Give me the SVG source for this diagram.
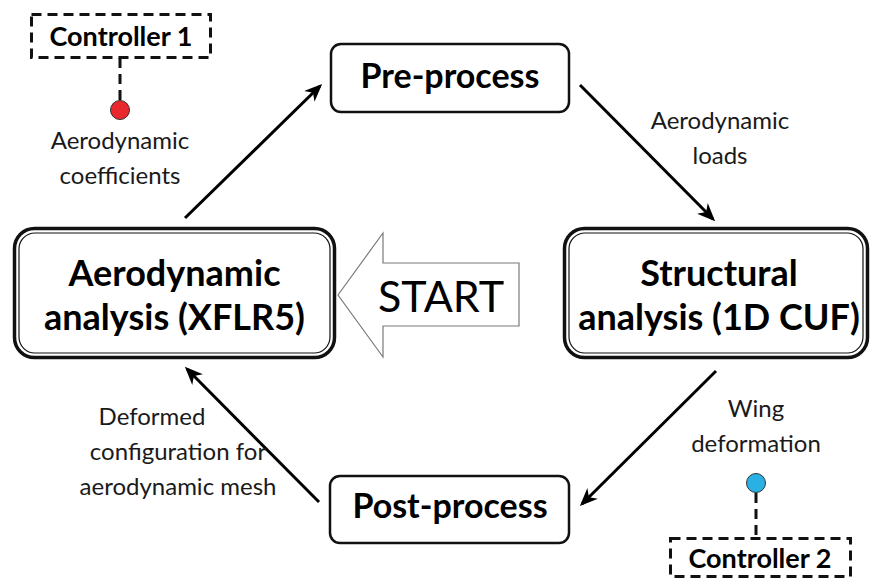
<svg xmlns="http://www.w3.org/2000/svg" width="871" height="581" viewBox="0 0 871 581">
<style>
.bold{font-family:Lato,"Open Sans","Liberation Sans",sans-serif;font-weight:bold;fill:#000;text-anchor:middle}
.lbl{font-family:Lato,"Open Sans","Liberation Sans",sans-serif;font-size:24px;fill:#1a1a1a;text-anchor:middle}
.box{fill:#fff;stroke:#111;stroke-width:2.5}
.outer{fill:#fff;stroke:#111;stroke-width:3.5}
.inner{fill:none;stroke:#111;stroke-width:1.2}
.dash{fill:none;stroke:#111;stroke-width:3;stroke-dasharray:10,6}
.conn{stroke:#000;stroke-width:3;fill:none;marker-end:url(#ah)}
</style>
<defs>
<marker id="ah" viewBox="0 0 12 10" refX="10" refY="5" markerWidth="6" markerHeight="5" orient="auto" markerUnits="strokeWidth">
<path d="M0,0 L12,5 L0,10 L3.5,5 z" fill="#000"/>
</marker>
</defs>
<rect width="871" height="581" fill="#fff"/>
<g id="connectors">
<line class="conn" x1="185" y1="218" x2="320" y2="86"/>
<line class="conn" x1="580" y1="85" x2="713" y2="219"/>
<line class="conn" x1="716" y1="371" x2="582" y2="504"/>
<line class="conn" x1="319" y1="502" x2="187" y2="369"/>
<line class="dash" x1="120" y1="58" x2="120" y2="101"/>
<line class="dash" x1="756" y1="493" x2="756" y2="538"/>
</g>
<g id="controller1">
<rect class="dash" x="31.5" y="14.5" width="179" height="43"/>
<text class="bold" x="121" y="46" font-size="27">Controller 1</text>
</g>
<g id="marker1">
<circle cx="120" cy="110" r="9.5" fill="#e8282c" stroke="#333" stroke-width="1"/>
</g>
<g id="label-coeff">
<text class="lbl" x="120" y="149">Aerodynamic</text>
<text class="lbl" x="120" y="184">coefficients</text>
</g>
<g id="preprocess">
<rect class="box" x="331" y="44" width="238" height="68" rx="10"/>
<text class="bold" x="450" y="88" font-size="34">Pre-process</text>
</g>
<g id="label-loads">
<text class="lbl" x="720" y="129">Aerodynamic</text>
<text class="lbl" x="720" y="164">loads</text>
</g>
<g id="aero">
<rect class="outer" x="14.5" y="228.5" width="320" height="129" rx="20"/>
<rect class="inner" x="19" y="233" width="311" height="120" rx="16"/>
<text class="bold" x="174.5" y="286" font-size="36">Aerodynamic</text>
<text class="bold" x="174.5" y="330" font-size="36">analysis (XFLR5)</text>
</g>
<g id="start">
<polygon points="338,295 383,233 383,263 519,263 519,326 383,326 383,357" fill="#fff" stroke="#7a7a7a" stroke-width="1.2"/>
<text x="441" y="312" font-family="Lato,'Open Sans','Liberation Sans',sans-serif" font-size="43" text-anchor="middle" fill="#000">START</text>
</g>
<g id="structural">
<rect class="outer" x="564.5" y="228.5" width="303" height="129" rx="20"/>
<rect class="inner" x="569" y="233" width="294" height="120" rx="16"/>
<text class="bold" x="719" y="286" font-size="36">Structural</text>
<text class="bold" x="719" y="330" font-size="36">analysis (1D CUF)</text>
</g>
<g id="label-wing">
<text class="lbl" x="756" y="417">Wing</text>
<text class="lbl" x="756" y="452">deformation</text>
</g>
<g id="label-deformed">
<text class="lbl" x="152" y="425">Deformed</text>
<text class="lbl" x="178" y="460">configuration for</text>
<text class="lbl" x="178" y="495">aerodynamic mesh</text>
</g>
<g id="postprocess">
<rect class="box" x="330" y="476" width="239" height="67" rx="10"/>
<text class="bold" x="450" y="518" font-size="34">Post-process</text>
</g>
<g id="marker2">
<circle cx="756" cy="483" r="9.5" fill="#29b1e6" stroke="#333" stroke-width="1"/>
</g>
<g id="controller2">
<rect class="dash" x="670.5" y="538.5" width="180" height="38"/>
<text class="bold" x="760" y="568" font-size="27">Controller 2</text>
</g>
</svg>
